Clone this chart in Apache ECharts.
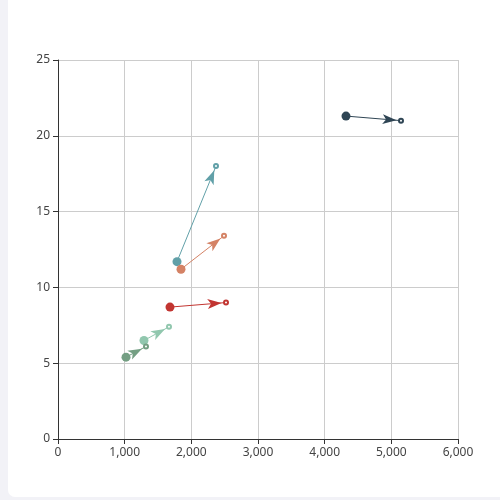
<!DOCTYPE html>
<html>
<head>
<meta charset="utf-8">
<script src="https://cdn.jsdelivr.net/npm/echarts@6/dist/echarts.min.js"></script>
<style>
html,body{margin:0;padding:0;background:#f2f2f7;}
#card{position:absolute;left:8px;top:-10px;width:500px;height:507px;background:#fff;border-radius:7px;}
#main{position:absolute;left:0;top:0;width:500px;height:500px;}
</style>
</head>
<body>
<div id="card"></div>
<div id="main"></div>
<script>
var colors = ['#2f4554', '#61a0a8', '#d48265', '#c23531', '#91c7ae', '#749f83'];
var startX = [4320, 1785, 1845, 1680, 1290, 1020];
var startY = [21.3, 11.7, 11.2, 8.7, 6.5, 5.4];
var endX = [5145, 2370, 2490, 2520, 1665, 1320];
var endY = [21.0, 18.0, 13.4, 9.0, 7.4, 6.1];
var xTicks = [0, 1000, 2000, 3000, 4000, 5000, 6000];
var yTicks = [0, 5, 10, 15, 20, 25];

// arrow head glyph (tip at top); empty square padding centres the box a little ahead of the tip
var arrowPath = 'path://M-13.5,-23 M23.5,-23 M-13.5,14 M5,0 L10,14 L5,10.5 L0,14 Z';

var chart = echarts.init(document.getElementById('main'));
var series = [];
for (var i = 0; i < colors.length; i++) {
  series.push({
    type: 'lines',
    coordinateSystem: 'cartesian2d',
    symbol: ['none', arrowPath],
    symbolSize: 37,
    symbolKeepAspect: true,
    lineStyle: { color: colors[i], width: 1, opacity: 1 },
    z: 2,
    data: [{ coords: [[startX[i], startY[i]], [endX[i], endY[i]]] }]
  });
  series.push({
    type: 'scatter',
    symbol: 'circle',
    symbolSize: 9,
    itemStyle: { color: colors[i], opacity: 1 },
    z: 3,
    data: [[startX[i], startY[i]]]
  });
  series.push({
    type: 'scatter',
    symbol: 'emptyCircle',
    symbolSize: 4,
    itemStyle: { color: colors[i], borderColor: colors[i], borderWidth: 0.8, opacity: 1 },
    z: 3,
    data: [[endX[i], endY[i]]]
  });
}

chart.setOption({
  animation: false,
  grid: { left: 58, right: 42, top: 60, bottom: 61, containLabel: false },
  xAxis: {
    type: 'value', min: xTicks[0], max: xTicks[xTicks.length - 1], interval: 1000,
    axisLine: { lineStyle: { color: '#333' } },
    axisTick: { show: true, lineStyle: { color: '#333' } },
    axisLabel: { color: '#444', fontSize: 12, fontFamily: 'Noto Sans',
      formatter: function (v) { return v.toLocaleString('en-US'); } },
    splitLine: { show: true, lineStyle: { color: '#ccc' } }
  },
  yAxis: {
    type: 'value', min: yTicks[0], max: yTicks[yTicks.length - 1], interval: 5,
    axisLine: { show: true, lineStyle: { color: '#333' } },
    axisTick: { show: true, lineStyle: { color: '#333' } },
    axisLabel: { color: '#444', fontSize: 12, fontFamily: 'Noto Sans' },
    splitLine: { show: true, lineStyle: { color: '#ccc' } }
  },
  series: series
});
</script>
</body>
</html>
